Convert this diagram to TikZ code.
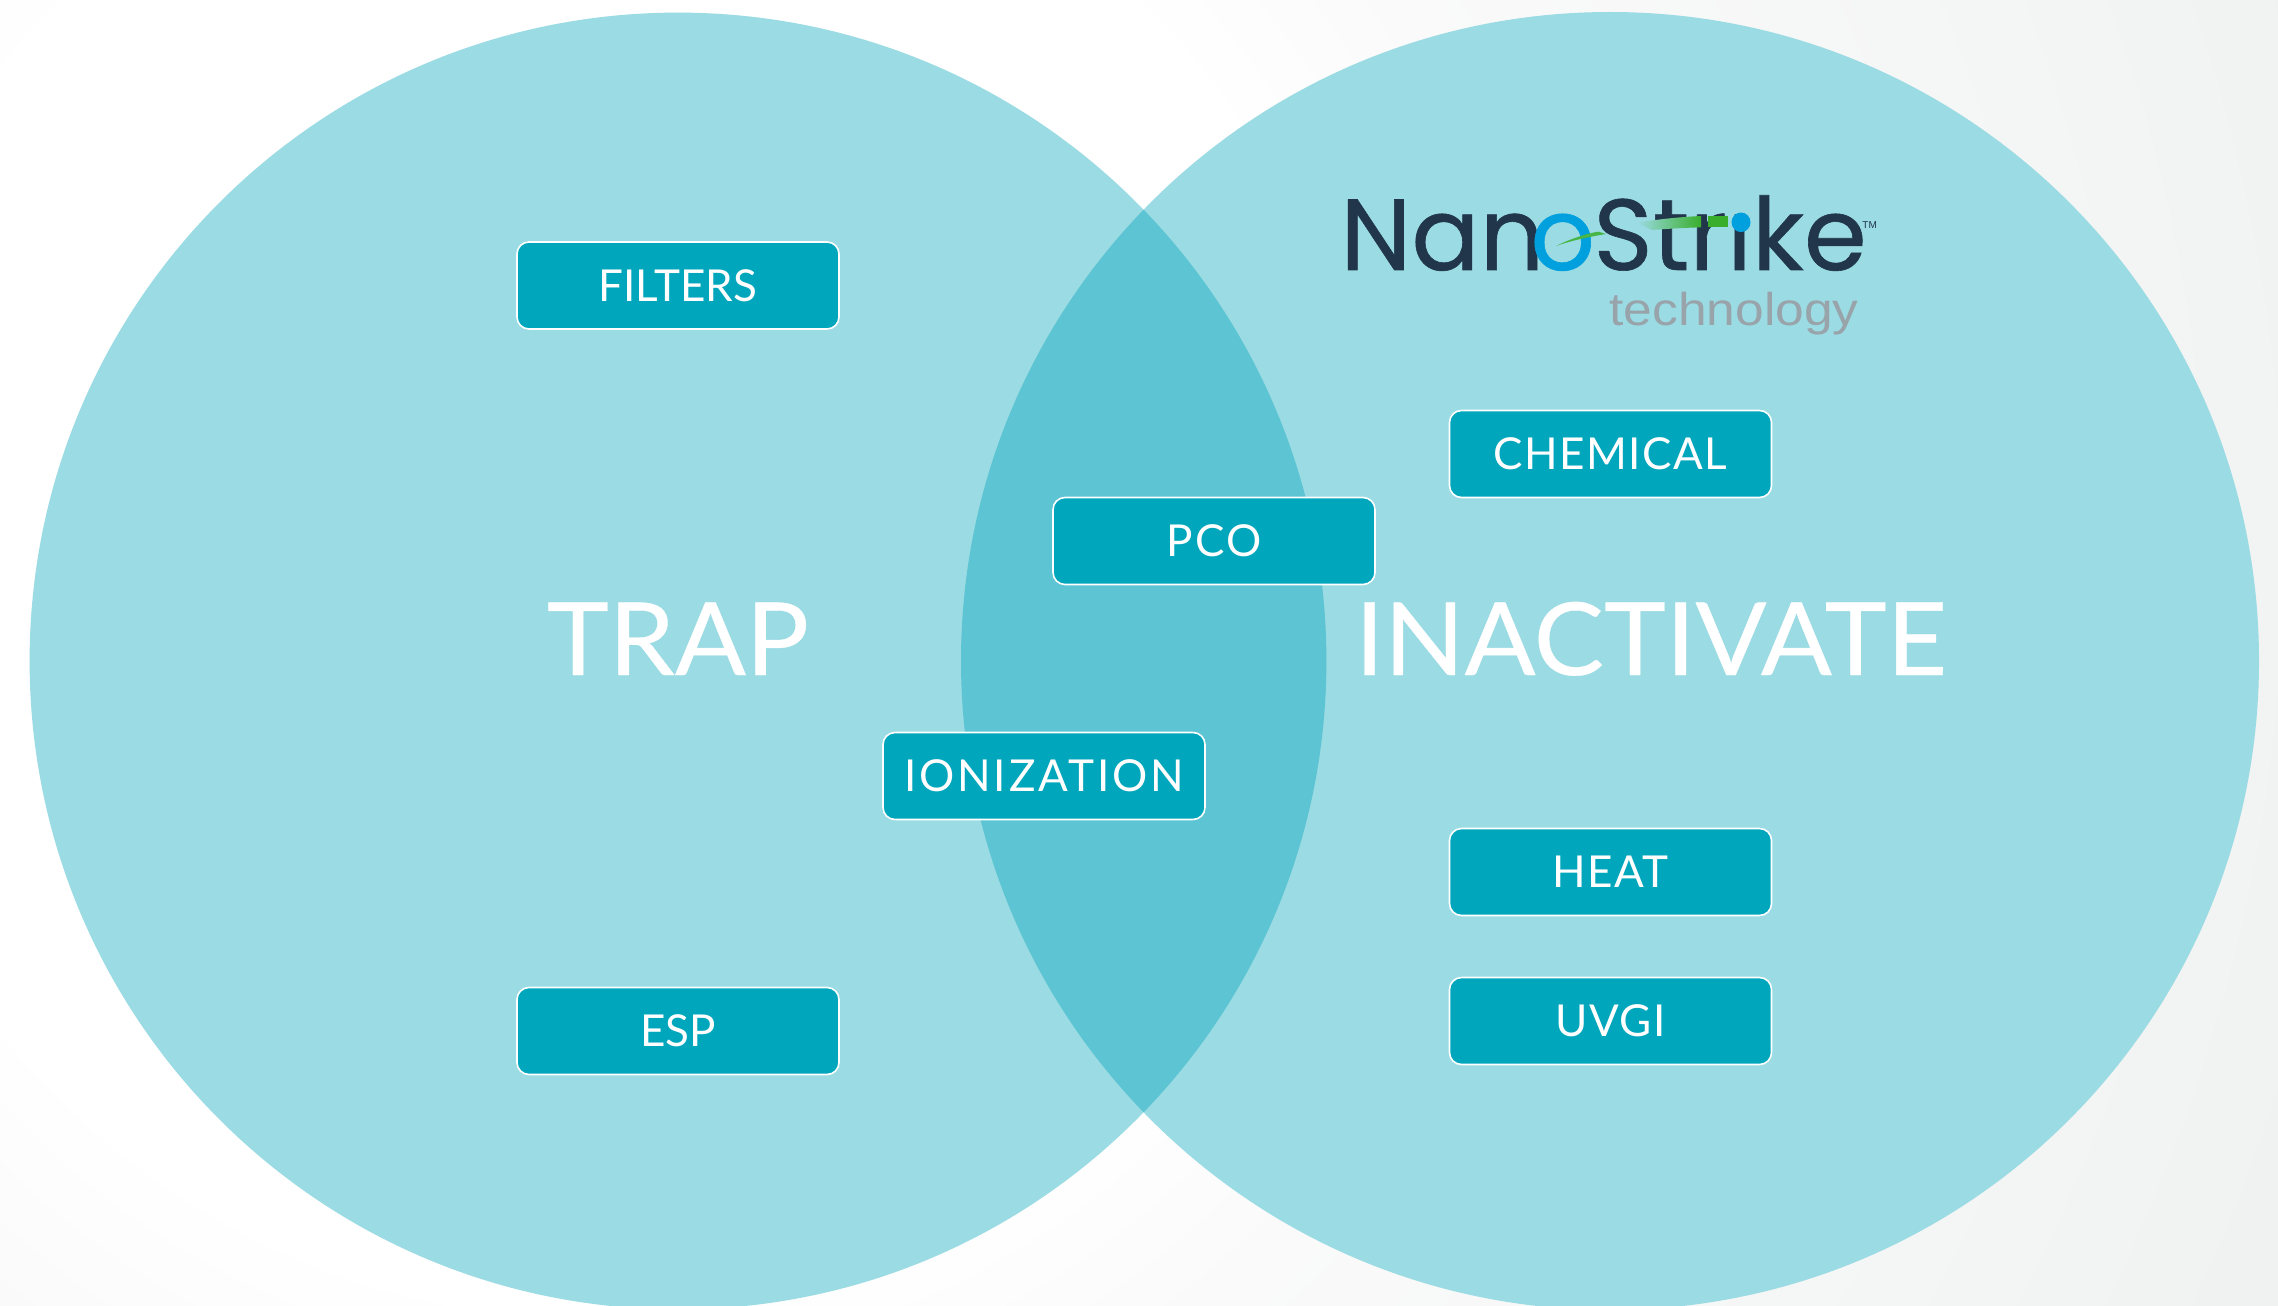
\documentclass[tikz,border=0pt]{standalone}
\usepackage{fontspec}
\setmainfont{Lato}
\newfontfamily\bigfont[FakeBold=0.35]{Lato}
\newfontfamily\logofont[FakeBold=0.6]{Poppins}
\newfontfamily\techfont{Liberation Sans}
\definecolor{circ}{HTML}{9BDBE3}
\definecolor{lens}{HTML}{5CC4D3}
\definecolor{boxc}{HTML}{00A6BB}
\definecolor{logodark}{HTML}{21364A}
\definecolor{logoblue}{HTML}{00A0DF}
\definecolor{logogreen}{HTML}{39AE2C}
\definecolor{techgray}{HTML}{98A3AA}
\definecolor{bga}{HTML}{FAFAFA}
\definecolor{bgb}{HTML}{F5F6F6}
\definecolor{bgr}{HTML}{F0F1F1}
\pgfdeclareradialshading{bgrad}{\pgfpoint{0pt}{0pt}}{color(0pt)=(white);color(375pt)=(white);color(482pt)=(bga);color(705pt)=(bgb);color(900pt)=(bgr);color(1100pt)=(bgr)}
\newcommand{\spaced}[2]{{\addfontfeature{LetterSpace=#1}#2}}
\tikzset{
  x=0.5pt,y=-0.5pt,
  tagbox/.style={draw=white,line width=0.8pt,fill=boxc,rounded corners=6pt,minimum width=161pt,minimum height=43.5pt,
    inner sep=0pt,text=white,font=\fontsize{22}{22}\selectfont,text height=15.8pt,text depth=0pt,align=center},
  bigword/.style={text=white,font=\bigfont\fontsize{50.5}{50}\selectfont,inner sep=0pt,anchor=base},
  logoword/.style={font=\logofont\fontsize{50.5}{50}\selectfont,inner sep=0pt,anchor=base west},
}
\begin{document}
\begin{tikzpicture}
\useasboundingbox (0,0) rectangle (2278,1305);
\clip (0,0) rectangle (2278,1305);
\node[inner sep=0pt] (bg) at (600,550) {\pgfuseshading{bgrad}};
\fill[circ] (678,661) circle[radius=324.2pt];
\fill[circ] (1610,661) circle[radius=324.5pt];
\begin{scope}
\clip (678,661) circle[radius=324.2pt];
\fill[lens] (1610,661) circle[radius=324.5pt];
\end{scope}
\node[tagbox] (filters) at (678,285.5) {FILTERS};
\node[tagbox] (esp) at (678,1031) {ESP};
\node[tagbox] (chemical) at (1610.5,454) {\spaced{3.3}{CHEMICAL}};
\node[tagbox] (heat) at (1610.5,872) {\spaced{3}{HEAT}};
\node[tagbox] (uvgi) at (1610.5,1021) {\spaced{3}{UVGI}};
\node[tagbox] (pco) at (1214,541) {\spaced{5}{PCO}};
\node[tagbox] (ionization) at (1044,776) {\spaced{6.6}{IONIZATION}};
\node[bigword] (trap) at (678,675) {\scalebox{1.04}[1]{TRAP}};
\node[bigword] (inactivate) at (1651,675) {\scalebox{1.04}[1]{INACTIVATE}};
% logo
\node[logoword,text=logodark] (nan) at (1340,270) {Nan};
\node[logoword,text=logoblue] (oo) at (1530,270) {o};
\node[logoword,text=logodark] (strike) at (1593,270) {Strike};
\fill[circ] (1739,197) circle[radius=8.5pt/1.0*0.5];
\fill[circ] (1739,197) circle[radius=5.5pt];
\fill[logogreen!85!circ] (1556,246) .. controls (1570,239) and (1588,233) .. (1598.5,231.7) -- (1606,234) .. controls (1588,237) and (1570,241) .. (1556,246) -- cycle;
\shade[left color=circ,right color=logogreen] (1637,222.7) .. controls (1660,219) and (1680,217) .. (1701,216) -- (1701,227.3) .. controls (1680,228) and (1665,229) .. (1652,230) -- cycle;
\fill[logogreen] (1707.6,216) -- (1728,216) -- (1728,227) -- (1707.6,227) -- cycle;
\fill[logoblue] (1741,222.3) ellipse[x radius=9.5,y radius=9.8];
\node[font=\techfont\fontsize{5}{5}\selectfont,text=logodark,inner sep=0pt,anchor=west] (tm) at (1862,225) {TM};
\node[font=\techfont\fontsize{23}{23}\selectfont,text=techgray,inner sep=0pt,anchor=base west] (tech) at (1609,325) {\scalebox{1.12}[1]{technology}};
\end{tikzpicture}
\end{document}
